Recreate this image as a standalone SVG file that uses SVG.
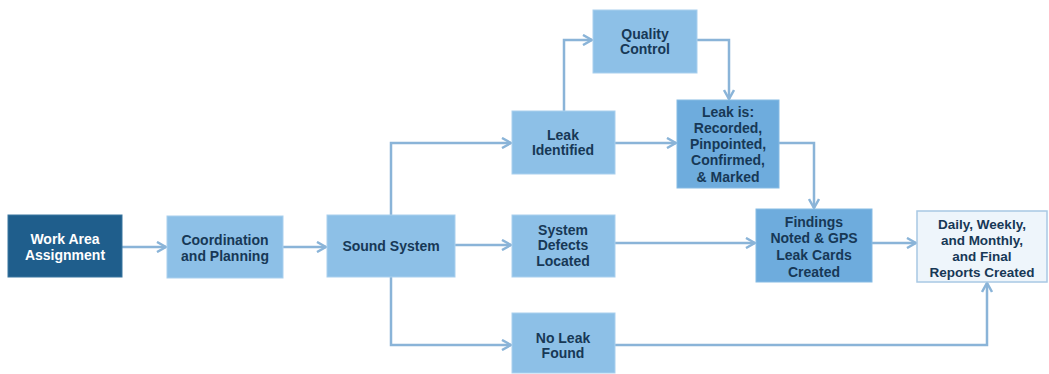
<svg xmlns="http://www.w3.org/2000/svg" width="1049" height="374" viewBox="0 0 1049 374">
<style>
.box{fill:#8dc0e7;stroke:#a9d0ee;stroke-width:1}
.dark{fill:#6eacdd;stroke:#86bbe4;stroke-width:1}
.navy{fill:#1f5e8c;stroke:#3b76a0;stroke-width:1}
.pale{fill:#eef5fb;stroke:#a8c8e4;stroke-width:1.5}
text{font-family:"Liberation Sans",Arial,sans-serif;font-weight:bold;font-size:14px;fill:#173856;text-anchor:middle}
.w{fill:#ffffff}
.c{fill:none;stroke:#8ab4d8;stroke-width:2.5}
</style>
<defs>
<marker id="ah" viewBox="0 0 12 12" refX="11" refY="6" markerWidth="12" markerHeight="12" markerUnits="userSpaceOnUse" orient="auto">
<path d="M2,1 L11,6 L2,11" fill="none" stroke="#8ab4d8" stroke-width="2.5"/>
</marker>
</defs>
<g id="connectors">
<path class="c" d="M122,247 H166" marker-end="url(#ah)"/>
<path class="c" d="M283,247 H326" marker-end="url(#ah)"/>
<path class="c" d="M455,245 H511" marker-end="url(#ah)"/>
<path class="c" d="M391,215 V143 H511" marker-end="url(#ah)"/>
<path class="c" d="M391,277 V345 H511" marker-end="url(#ah)"/>
<path class="c" d="M564,111 V40 H592" marker-end="url(#ah)"/>
<path class="c" d="M697,40 H729 V99" marker-end="url(#ah)"/>
<path class="c" d="M615,143 H676" marker-end="url(#ah)"/>
<path class="c" d="M779,143 H814 V208" marker-end="url(#ah)"/>
<path class="c" d="M615,243 H755" marker-end="url(#ah)"/>
<path class="c" d="M872,243 H916" marker-end="url(#ah)"/>
<path class="c" d="M615,345 H987 V283" marker-end="url(#ah)"/>
</g>
<g id="work-area">
<rect class="navy" x="8" y="215" width="114" height="62"/>
<text class="w" x="65" y="244">Work Area</text>
<text class="w" x="65" y="260">Assignment</text>
</g>
<g id="coordination">
<rect class="box" x="167" y="216" width="116" height="62"/>
<text x="225" y="245">Coordination</text>
<text x="225" y="261">and Planning</text>
</g>
<g id="sound-system">
<rect class="box" x="327" y="215" width="128" height="62"/>
<text x="391" y="251">Sound System</text>
</g>
<g id="system-defects">
<rect class="box" x="512" y="215" width="103" height="62"/>
<text x="563" y="235">System</text>
<text x="563" y="250">Defects</text>
<text x="563" y="266">Located</text>
</g>
<g id="no-leak">
<rect class="box" x="512" y="313" width="103" height="60"/>
<text x="563" y="343">No Leak</text>
<text x="563" y="358">Found</text>
</g>
<g id="leak-identified">
<rect class="box" x="512" y="111" width="103" height="63"/>
<text x="563" y="140">Leak</text>
<text x="563" y="155">Identified</text>
</g>
<g id="quality-control">
<rect class="box" x="593" y="10" width="104" height="63"/>
<text x="645" y="39">Quality</text>
<text x="645" y="54">Control</text>
</g>
<g id="leak-is">
<rect class="dark" x="677" y="100" width="102" height="88"/>
<text x="728" y="117">Leak is:</text>
<text x="728" y="133">Recorded,</text>
<text x="728" y="149">Pinpointed,</text>
<text x="728" y="165">Confirmed,</text>
<text x="728" y="182">&amp; Marked</text>
</g>
<g id="findings">
<rect class="dark" x="756" y="209" width="116" height="73"/>
<text x="814" y="227">Findings</text>
<text x="814" y="243">Noted &amp; GPS</text>
<text x="814" y="260">Leak Cards</text>
<text x="814" y="277">Created</text>
</g>
<g id="reports">
<rect class="pale" x="917" y="211" width="130" height="71"/>
<text x="982" y="229" style="font-size:13.5px">Daily, Weekly,</text>
<text x="982" y="245" style="font-size:13.5px">and Monthly,</text>
<text x="982" y="261" style="font-size:13.5px">and Final</text>
<text x="982" y="277" style="font-size:13.5px">Reports Created</text>
</g>
</svg>
